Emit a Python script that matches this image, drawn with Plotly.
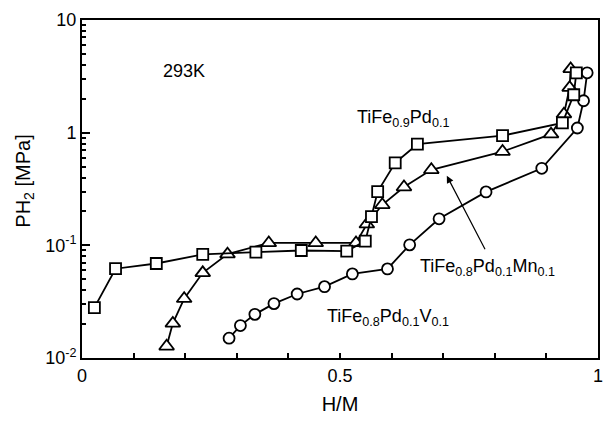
import plotly.graph_objects as go

# H/M and P(H2) [MPa]
hm_pd = [0.024, 0.065, 0.144, 0.234, 0.337, 0.425, 0.513, 0.549, 0.561, 0.573, 0.607, 0.650, 0.815, 0.931, 0.953, 0.958]
p_pd = [0.028, 0.062, 0.069, 0.083, 0.087, 0.090, 0.089, 0.109, 0.180, 0.30, 0.54, 0.79, 0.94, 1.22, 2.17, 3.40]

hm_mn = [0.164, 0.176, 0.198, 0.234, 0.282, 0.362, 0.453, 0.531, 0.552, 0.582, 0.624, 0.677, 0.815, 0.909, 0.934, 0.945, 0.947]
p_mn = [0.0127, 0.0203, 0.0336, 0.057, 0.0836, 0.105, 0.105, 0.105, 0.154, 0.229, 0.329, 0.468, 0.68, 0.97, 1.46, 2.51, 3.68]

hm_v = [0.285, 0.307, 0.335, 0.372, 0.417, 0.470, 0.524, 0.592, 0.635, 0.692, 0.783, 0.891, 0.960, 0.972, 0.979]
p_v = [0.0150, 0.0194, 0.0244, 0.0304, 0.037, 0.043, 0.0558, 0.0618, 0.101, 0.172, 0.298, 0.483, 1.10, 1.92, 3.40]

y_tickvals = [0.01, 0.1, 1, 10]
y_ticktext = ["10<sup>-2</sup>", "10<sup>-1</sup>", "1", "10"]
x_tickvals = [0, 0.5, 1]
x_ticktext = ["0", "0.5", "1"]

FONT = "Liberation Sans, Arial, Helvetica, sans-serif"
line_style = dict(color="black", width=1.8)

fig = go.Figure()
fig.add_trace(go.Scatter(
    x=hm_v, y=p_v, mode="lines+markers", line=line_style,
    marker=dict(symbol="circle", size=11, color="white", line=dict(color="black", width=1.8)),
    name="TiFe0.8Pd0.1V0.1", cliponaxis=False))
fig.add_trace(go.Scatter(
    x=hm_mn, y=p_mn, mode="lines+markers", line=line_style,
    marker=dict(symbol="triangle-up", size=13, color="white", line=dict(color="black", width=1.8)),
    name="TiFe0.8Pd0.1Mn0.1", cliponaxis=False))
fig.add_trace(go.Scatter(
    x=hm_pd, y=p_pd, mode="lines+markers", line=line_style,
    marker=dict(symbol="square", size=11, color="white", line=dict(color="black", width=1.8)),
    name="TiFe0.9Pd0.1", cliponaxis=False))

minor_y = [m * 10 ** e for e in (-2, -1, 0) for m in range(2, 10)]

fig.update_layout(
    width=613, height=423,
    margin=dict(l=82, r=12, t=10, b=65),
    paper_bgcolor="white", plot_bgcolor="white",
    showlegend=False,
    font=dict(family=FONT, size=18, color="black"),
    xaxis=dict(
        range=[0, 1], tickmode="array", tickvals=x_tickvals, ticktext=x_ticktext,
        ticks="inside", ticklen=5, tickwidth=1.5, tickcolor="black",
        minor=dict(dtick=0.1, tick0=0, ticks="inside", ticklen=5, tickwidth=1.5, tickcolor="black", showgrid=False),
        showline=True, linecolor="black", linewidth=2, mirror=True,
        showgrid=False, zeroline=False,
        tickfont=dict(size=18),
        title=dict(text="H/M", font=dict(size=20), standoff=12),
    ),
    yaxis=dict(
        type="log", range=[-2, 1], tickmode="array", tickvals=y_tickvals, ticktext=y_ticktext,
        ticks="inside", ticklen=8, tickwidth=1.5, tickcolor="black",
        minor=dict(tickmode="array", tickvals=minor_y, ticks="inside", ticklen=4, tickwidth=1.5,
                   tickcolor="black", showgrid=False),
        showline=True, linecolor="black", linewidth=2, mirror=True,
        showgrid=False, zeroline=False,
        tickfont=dict(size=18),
    ),
)

# y-axis title (placed slightly above the plot centre, as in the reference)
fig.add_annotation(x=(24 - 82) / 519, y=(357.7 - 176) / 347.7, xref="paper", yref="paper",
                   text="PH<sub>2</sub> [MPa]", textangle=-90, showarrow=False,
                   font=dict(size=20), xanchor="center", yanchor="middle")

fig.add_annotation(x=0.197, y=0.85, xref="paper", yref="paper", text="293K",
                   showarrow=False, font=dict(size=18), xanchor="center", yanchor="middle")
fig.add_annotation(x=0.529, y=(357.7 - 111) / 347.7, xref="paper", yref="paper",
                   text="TiFe<sub>0.9</sub>Pd<sub>0.1</sub>",
                   showarrow=False, font=dict(size=18), xanchor="left", yanchor="middle")
fig.add_annotation(x=(420 - 82) / 519, y=(357.7 - 265) / 347.7, xref="paper", yref="paper",
                   text="TiFe<sub>0.8</sub>Pd<sub>0.1</sub>Mn<sub>0.1</sub>",
                   showarrow=False, font=dict(size=18), xanchor="left", yanchor="middle")
fig.add_annotation(x=(326.7 - 82) / 519, y=(357.7 - 316) / 347.7, xref="paper", yref="paper",
                   text="TiFe<sub>0.8</sub>Pd<sub>0.1</sub>V<sub>0.1</sub>",
                   showarrow=False, font=dict(size=18), xanchor="left", yanchor="middle")
# arrow pointing to the Mn curve
fig.add_annotation(x=0.707, y=-0.382, xref="x", yref="y", text="",
                   showarrow=True, arrowhead=2, arrowsize=1.2, arrowwidth=1.2, arrowcolor="black",
                   ax=39, ay=75, axref="pixel", ayref="pixel")

fig.write_html("out.html")
